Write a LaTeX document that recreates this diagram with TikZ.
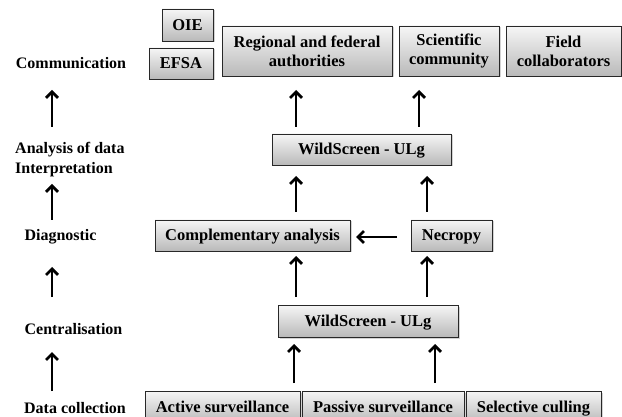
\documentclass[tikz,border=0pt]{standalone}
\usepackage{fontspec}
\setmainfont{Liberation Serif}
\usetikzlibrary{arrows.meta,shadows}
\definecolor{boxtop}{RGB}{246,246,246}
\definecolor{boxbot}{RGB}{185,185,185}
\definecolor{boxline}{RGB}{40,40,40}
\tikzset{
  gbox/.style={draw=boxline, line width=0.8pt, top color=boxtop, bottom color=boxbot,
    drop shadow={shadow xshift=1.5pt, shadow yshift=-1.5pt, opacity=0.35},
    inner sep=0pt, align=center, font=\fontsize{16.5}{19}\selectfont\bfseries},
  one/.style={text height=12pt, text depth=1pt},
  lbl/.style={inner sep=0pt, font=\fontsize{16}{20}\selectfont\bfseries},
  up/.style={line width=2.8pt, -{Straight Barb[length=6pt,width=12pt,line width=2.8pt]}},
}
\begin{document}
\begin{tikzpicture}[x=1pt,y=-1pt]
\useasboundingbox (0,0) rectangle (622,417);
% boxes
\node[gbox, one, minimum width=51pt, minimum height=32pt] (oie) at (187.5,25) {OIE};
\node[gbox, one, minimum width=64pt, minimum height=31pt] (efsa) at (181,63.5) {EFSA};
\node[gbox, minimum width=170pt, minimum height=50pt] (reg) at (307,51) {Regional and federal\\authorities};
\node[gbox, minimum width=100pt, minimum height=50pt] (sci) at (449,51) {Scientific\\community};
\node[gbox, minimum width=115pt, minimum height=50pt] (field) at (563.5,51) {Field\\collaborators};
\node[gbox, one, minimum width=179pt, minimum height=31pt] (ws1) at (361.5,149.5) {WildScreen - ULg};
\node[gbox, one, minimum width=195pt, minimum height=31pt] (comp) at (252.5,235.5) {Complementary analysis};
\node[gbox, one, minimum width=81pt, minimum height=31pt] (necro) at (451.5,235.5) {Necropy};
\node[gbox, one, minimum width=180pt, minimum height=32pt] (ws2) at (368,321) {WildScreen - ULg};
\node[gbox, one, minimum width=155pt, minimum height=32pt] (act) at (222.5,407) {Active surveillance};
\node[gbox, one, minimum width=162pt, minimum height=32pt] (pas) at (383,407) {Passive surveillance};
\node[gbox, one, minimum width=135pt, minimum height=32pt] (sel) at (533.5,407) {Selective culling};
% labels
\node[lbl] (comm) at (71,63) {Communication};
\node[lbl, align=left, anchor=west] (anal) at (15,160) {Analysis of data\\Interpretation};
\node[lbl] (diag) at (60.5,237) {Diagnostic};
\node[lbl] (cent) at (73.5,329) {Centralisation};
\node[lbl] (data) at (75,408) {Data collection};
% arrow end coordinates
\coordinate (a1s) at (52,127); \coordinate (a1e) at (52,90);
\coordinate (a2s) at (52,220); \coordinate (a2e) at (52,184);
\coordinate (a3s) at (52,297); \coordinate (a3e) at (52,267);
\coordinate (a4s) at (52,391); \coordinate (a4e) at (52,352);
\coordinate (b1s) at (296,127); \coordinate (b1e) at (296,90);
\coordinate (b2s) at (419,127); \coordinate (b2e) at (419,90);
\coordinate (b3s) at (296,212); \coordinate (b3e) at (296,176);
\coordinate (b4s) at (427,212); \coordinate (b4e) at (427,176);
\coordinate (b5s) at (397,237); \coordinate (b5e) at (356,237);
\coordinate (b6s) at (296,297); \coordinate (b6e) at (296,256);
\coordinate (b7s) at (427,297); \coordinate (b7e) at (427,256);
\coordinate (b8s) at (294,383); \coordinate (b8e) at (294,344);
\coordinate (b9s) at (435,383); \coordinate (b9e) at (435,344);
\foreach \n in {a1,a2,a3,a4,b1,b2,b3,b4,b5,b6,b7,b8,b9}
  \draw[up] (\n s) -- (\n e);
\end{tikzpicture}
\end{document}
